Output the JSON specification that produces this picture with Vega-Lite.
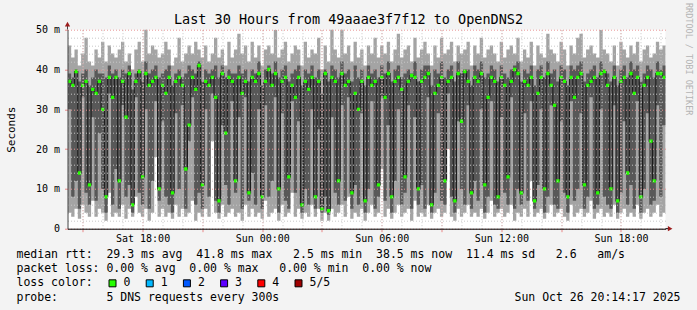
{
"$schema": "https://vega.github.io/schema/vega-lite/v6.json",
"background": "#f3f3f3",
"padding": {"left": 5.5, "top": 1.7, "right": 4, "bottom": 6},
"config": {"font": "DejaVu Sans Mono", "view": {"stroke": null}, "axis": {"labelColor": "#000", "titleColor": "#000", "titleFontWeight": "normal"}},
"datasets": {
"smoke": [
{"t":"2025-10-25T14:15","lo":4,"q1":30,"md":37,"q3":39,"hi":46},
{"t":"2025-10-25T14:25","lo":3,"q1":8,"md":36,"q3":38,"hi":43},
{"t":"2025-10-25T14:35","lo":5,"q1":12,"md":39.5,"q3":40,"hi":45},
{"t":"2025-10-25T14:45","lo":2.5,"q1":5,"md":14,"q3":37,"hi":41},
{"t":"2025-10-25T14:55","lo":6,"q1":33,"md":36,"q3":39,"hi":44},
{"t":"2025-10-25T15:05","lo":4,"q1":9,"md":37,"q3":40,"hi":48},
{"t":"2025-10-25T15:15","lo":3,"q1":6,"md":11,"q3":36,"hi":42},
{"t":"2025-10-25T15:25","lo":7,"q1":28,"md":35,"q3":38,"hi":41},
{"t":"2025-10-25T15:35","lo":3,"q1":7,"md":34,"q3":40,"hi":45},
{"t":"2025-10-25T15:45","lo":5,"q1":24,"md":37,"q3":39,"hi":43},
{"t":"2025-10-25T15:55","lo":4,"q1":10,"md":30,"q3":39,"hi":47},
{"t":"2025-10-25T16:05","lo":2,"q1":4,"md":8,"q3":38,"hi":42},
{"t":"2025-10-25T16:15","lo":9,"q1":34,"md":38,"q3":41,"hi":46},
{"t":"2025-10-25T16:25","lo":3,"q1":6,"md":33,"q3":39,"hi":44},
{"t":"2025-10-25T16:35","lo":4,"q1":15,"md":38,"q3":40,"hi":43},
{"t":"2025-10-25T16:45","lo":3,"q1":5,"md":12,"q3":38,"hi":45},
{"t":"2025-10-25T16:55","lo":6,"q1":31,"md":37,"q3":40,"hi":47},
{"t":"2025-10-25T17:05","lo":2.5,"q1":8,"md":28,"q3":39,"hi":42},
{"t":"2025-10-25T17:15","lo":5,"q1":11,"md":39,"q3":41,"hi":44},
{"t":"2025-10-25T17:25","lo":3,"q1":4,"md":6,"q3":35,"hi":40},
{"t":"2025-10-25T17:35","lo":8,"q1":33,"md":37,"q3":39,"hi":45},
{"t":"2025-10-25T17:45","lo":4,"q1":9,"md":39.5,"q3":40,"hi":47},
{"t":"2025-10-25T17:55","lo":3,"q1":6,"md":13,"q3":37,"hi":42},
{"t":"2025-10-25T18:05","lo":5,"q1":30,"md":39,"q3":42,"hi":51},
{"t":"2025-10-25T18:15","lo":2,"q1":5,"md":36,"q3":39,"hi":44},
{"t":"2025-10-25T18:25","lo":4,"q1":12,"md":37,"q3":40,"hi":46},
{"t":"2025-10-25T18:35","lo":18,"q1":32,"md":38,"q3":41,"hi":45},
{"t":"2025-10-25T18:45","lo":3,"q1":7,"md":10,"q3":38,"hi":43},
{"t":"2025-10-25T18:55","lo":5,"q1":27,"md":36,"q3":39,"hi":44},
{"t":"2025-10-25T19:05","lo":3,"q1":8,"md":34,"q3":40,"hi":47},
{"t":"2025-10-25T19:15","lo":4,"q1":6,"md":38,"q3":41,"hi":45},
{"t":"2025-10-25T19:25","lo":2.5,"q1":4,"md":9,"q3":36,"hi":41},
{"t":"2025-10-25T19:35","lo":6,"q1":29,"md":37,"q3":39,"hi":43},
{"t":"2025-10-25T19:45","lo":3,"q1":10,"md":38,"q3":40,"hi":48},
{"t":"2025-10-25T19:55","lo":5,"q1":31,"md":36,"q3":38,"hi":42},
{"t":"2025-10-25T20:05","lo":3,"q1":5,"md":15,"q3":39,"hi":44},
{"t":"2025-10-25T20:15","lo":4,"q1":22,"md":26,"q3":41,"hi":46},
{"t":"2025-10-25T20:25","lo":7,"q1":33,"md":38,"q3":40,"hi":44},
{"t":"2025-10-25T20:35","lo":2,"q1":6,"md":35,"q3":39,"hi":47},
{"t":"2025-10-25T20:45","lo":4,"q1":9,"md":41,"q3":42,"hi":45},
{"t":"2025-10-25T20:55","lo":3,"q1":5,"md":11,"q3":37,"hi":43},
{"t":"2025-10-25T21:05","lo":5,"q1":30,"md":37,"q3":40,"hi":46},
{"t":"2025-10-25T21:15","lo":3,"q1":8,"md":36,"q3":39,"hi":42},
{"t":"2025-10-25T21:25","lo":22,"q1":34,"md":38,"q3":40,"hi":44},
{"t":"2025-10-25T21:35","lo":4,"q1":7,"md":33,"q3":41,"hi":48},
{"t":"2025-10-25T21:45","lo":2.5,"q1":4,"md":7,"q3":38,"hi":43},
{"t":"2025-10-25T21:55","lo":6,"q1":26,"md":39,"q3":41,"hi":45},
{"t":"2025-10-25T22:05","lo":3,"q1":11,"md":24,"q3":38,"hi":41},
{"t":"2025-10-25T22:15","lo":4,"q1":6,"md":38,"q3":40,"hi":47},
{"t":"2025-10-25T22:25","lo":5,"q1":32,"md":37,"q3":39,"hi":43},
{"t":"2025-10-25T22:35","lo":3,"q1":9,"md":12,"q3":39,"hi":45},
{"t":"2025-10-25T22:45","lo":4,"q1":28,"md":38,"q3":41,"hi":49},
{"t":"2025-10-25T22:55","lo":2,"q1":5,"md":34,"q3":39,"hi":44},
{"t":"2025-10-25T23:05","lo":6,"q1":33,"md":37,"q3":40,"hi":46},
{"t":"2025-10-25T23:15","lo":3,"q1":7,"md":9,"q3":37,"hi":42},
{"t":"2025-10-25T23:25","lo":5,"q1":14,"md":38,"q3":40,"hi":47},
{"t":"2025-10-25T23:35","lo":3,"q1":6,"md":37,"q3":39,"hi":43},
{"t":"2025-10-25T23:45","lo":4,"q1":30,"md":39,"q3":42,"hi":46},
{"t":"2025-10-25T23:55","lo":2.5,"q1":5,"md":8,"q3":36,"hi":41},
{"t":"2025-10-26T00:05","lo":7,"q1":31,"md":37,"q3":40,"hi":45},
{"t":"2025-10-26T00:15","lo":3,"q1":8,"md":40,"q3":41,"hi":46},
{"t":"2025-10-26T00:25","lo":4,"q1":12,"md":36,"q3":39,"hi":44},
{"t":"2025-10-26T00:35","lo":5,"q1":33,"md":39,"q3":42,"hi":50},
{"t":"2025-10-26T00:45","lo":2,"q1":4,"md":10,"q3":38,"hi":43},
{"t":"2025-10-26T00:55","lo":6,"q1":29,"md":37,"q3":40,"hi":45},
{"t":"2025-10-26T01:05","lo":3,"q1":7,"md":38,"q3":41,"hi":47},
{"t":"2025-10-26T01:15","lo":4,"q1":5,"md":13,"q3":37,"hi":42},
{"t":"2025-10-26T01:25","lo":9,"q1":32,"md":36,"q3":39,"hi":44},
{"t":"2025-10-26T01:35","lo":3,"q1":9,"md":33,"q3":40,"hi":46},
{"t":"2025-10-26T01:45","lo":5,"q1":27,"md":38,"q3":41,"hi":45},
{"t":"2025-10-26T01:55","lo":2.5,"q1":4,"md":6,"q3":36,"hi":41},
{"t":"2025-10-26T02:05","lo":4,"q1":10,"md":37,"q3":40,"hi":47},
{"t":"2025-10-26T02:15","lo":3,"q1":6,"md":35,"q3":39,"hi":43},
{"t":"2025-10-26T02:25","lo":6,"q1":30,"md":38,"q3":41,"hi":45},
{"t":"2025-10-26T02:35","lo":3,"q1":5,"md":8,"q3":38,"hi":44},
{"t":"2025-10-26T02:45","lo":5,"q1":25,"md":37,"q3":40,"hi":48},
{"t":"2025-10-26T02:55","lo":2,"q1":4,"md":5,"q3":34,"hi":40},
{"t":"2025-10-26T03:05","lo":4,"q1":8,"md":39,"q3":40,"hi":46},
{"t":"2025-10-26T03:15","lo":2,"q1":3.5,"md":4.5,"q3":37,"hi":42},
{"t":"2025-10-26T03:25","lo":5,"q1":28,"md":38,"q3":41,"hi":51},
{"t":"2025-10-26T03:35","lo":3,"q1":9,"md":37,"q3":40,"hi":45},
{"t":"2025-10-26T03:45","lo":4,"q1":6,"md":12,"q3":38,"hi":43},
{"t":"2025-10-26T03:55","lo":6,"q1":31,"md":39,"q3":42,"hi":51},
{"t":"2025-10-26T04:05","lo":3,"q1":7,"md":36,"q3":39,"hi":44},
{"t":"2025-10-26T04:15","lo":8,"q1":33,"md":37,"q3":40,"hi":46},
{"t":"2025-10-26T04:25","lo":2.5,"q1":5,"md":9,"q3":37,"hi":42},
{"t":"2025-10-26T04:35","lo":4,"q1":11,"md":34,"q3":41,"hi":47},
{"t":"2025-10-26T04:45","lo":3,"q1":6,"md":30,"q3":38,"hi":43},
{"t":"2025-10-26T04:55","lo":5,"q1":29,"md":37,"q3":40,"hi":45},
{"t":"2025-10-26T05:05","lo":2,"q1":4,"md":7,"q3":36,"hi":41},
{"t":"2025-10-26T05:15","lo":4,"q1":10,"md":38,"q3":41,"hi":46},
{"t":"2025-10-26T05:25","lo":6,"q1":32,"md":36,"q3":39,"hi":44},
{"t":"2025-10-26T05:35","lo":3,"q1":5,"md":37,"q3":40,"hi":48},
{"t":"2025-10-26T05:45","lo":4,"q1":8,"md":11,"q3":38,"hi":43},
{"t":"2025-10-26T05:55","lo":15,"q1":33,"md":38,"q3":41,"hi":46},
{"t":"2025-10-26T06:05","lo":3,"q1":7,"md":33,"q3":39,"hi":44},
{"t":"2025-10-26T06:15","lo":5,"q1":26,"md":39,"q3":42,"hi":47},
{"t":"2025-10-26T06:25","lo":2.5,"q1":4,"md":8,"q3":37,"hi":42},
{"t":"2025-10-26T06:35","lo":4,"q1":12,"md":37,"q3":40,"hi":45},
{"t":"2025-10-26T06:45","lo":6,"q1":30,"md":38,"q3":41,"hi":49},
{"t":"2025-10-26T06:55","lo":3,"q1":6,"md":35,"q3":38,"hi":43},
{"t":"2025-10-26T07:05","lo":4,"q1":9,"md":13,"q3":39,"hi":45},
{"t":"2025-10-26T07:15","lo":5,"q1":31,"md":37,"q3":40,"hi":46},
{"t":"2025-10-26T07:25","lo":2,"q1":5,"md":38.5,"q3":39,"hi":42},
{"t":"2025-10-26T07:35","lo":7,"q1":28,"md":38,"q3":42,"hi":48},
{"t":"2025-10-26T07:45","lo":3,"q1":6,"md":10,"q3":37,"hi":43},
{"t":"2025-10-26T07:55","lo":4,"q1":11,"md":37,"q3":40,"hi":45},
{"t":"2025-10-26T08:05","lo":3,"q1":5,"md":38,"q3":41,"hi":47},
{"t":"2025-10-26T08:15","lo":6,"q1":33,"md":39,"q3":41,"hi":44},
{"t":"2025-10-26T08:25","lo":2.5,"q1":4,"md":6,"q3":36,"hi":41},
{"t":"2025-10-26T08:35","lo":4,"q1":9,"md":34,"q3":40,"hi":46},
{"t":"2025-10-26T08:45","lo":5,"q1":29,"md":36,"q3":39,"hi":43},
{"t":"2025-10-26T08:55","lo":3,"q1":7,"md":38,"q3":42,"hi":48},
{"t":"2025-10-26T09:05","lo":4,"q1":6,"md":12,"q3":38,"hi":44},
{"t":"2025-10-26T09:15","lo":20,"q1":34,"md":37,"q3":40,"hi":45},
{"t":"2025-10-26T09:25","lo":3,"q1":8,"md":38,"q3":41,"hi":47},
{"t":"2025-10-26T09:35","lo":2,"q1":4,"md":7,"q3":37,"hi":42},
{"t":"2025-10-26T09:45","lo":5,"q1":27,"md":39,"q3":42,"hi":46},
{"t":"2025-10-26T09:55","lo":3,"q1":10,"md":27,"q3":39,"hi":44},
{"t":"2025-10-26T10:05","lo":4,"q1":6,"md":39.5,"q3":40,"hi":45},
{"t":"2025-10-26T10:15","lo":6,"q1":31,"md":37,"q3":40,"hi":47},
{"t":"2025-10-26T10:25","lo":3,"q1":5,"md":9,"q3":36,"hi":41},
{"t":"2025-10-26T10:35","lo":4,"q1":12,"md":38,"q3":41,"hi":46},
{"t":"2025-10-26T10:45","lo":3,"q1":7,"md":37,"q3":40,"hi":44},
{"t":"2025-10-26T10:55","lo":5,"q1":30,"md":39,"q3":42,"hi":48},
{"t":"2025-10-26T11:05","lo":2.5,"q1":4,"md":11,"q3":38,"hi":43},
{"t":"2025-10-26T11:15","lo":4,"q1":8,"md":33,"q3":39,"hi":45},
{"t":"2025-10-26T11:25","lo":7,"q1":32,"md":38,"q3":41,"hi":46},
{"t":"2025-10-26T11:35","lo":3,"q1":6,"md":37,"q3":40,"hi":44},
{"t":"2025-10-26T11:45","lo":4,"q1":5,"md":8,"q3":37,"hi":42},
{"t":"2025-10-26T11:55","lo":5,"q1":28,"md":38,"q3":41,"hi":47},
{"t":"2025-10-26T12:05","lo":3,"q1":9,"md":36,"q3":39,"hi":43},
{"t":"2025-10-26T12:15","lo":4,"q1":6,"md":13,"q3":38,"hi":45},
{"t":"2025-10-26T12:25","lo":6,"q1":33,"md":37,"q3":40,"hi":46},
{"t":"2025-10-26T12:35","lo":2,"q1":5,"md":40,"q3":41,"hi":44},
{"t":"2025-10-26T12:45","lo":4,"q1":10,"md":39,"q3":42,"hi":48},
{"t":"2025-10-26T12:55","lo":3,"q1":6,"md":9,"q3":37,"hi":42},
{"t":"2025-10-26T13:05","lo":5,"q1":29,"md":37,"q3":40,"hi":45},
{"t":"2025-10-26T13:15","lo":3,"q1":7,"md":36,"q3":39,"hi":43},
{"t":"2025-10-26T13:25","lo":12,"q1":32,"md":38,"q3":41,"hi":47},
{"t":"2025-10-26T13:35","lo":3,"q1":5,"md":7,"q3":36,"hi":41},
{"t":"2025-10-26T13:45","lo":4,"q1":11,"md":34,"q3":40,"hi":46},
{"t":"2025-10-26T13:55","lo":5,"q1":30,"md":38,"q3":41,"hi":44},
{"t":"2025-10-26T14:05","lo":2.5,"q1":4,"md":10,"q3":38,"hi":43},
{"t":"2025-10-26T14:15","lo":4,"q1":8,"md":39,"q3":42,"hi":49},
{"t":"2025-10-26T14:25","lo":6,"q1":31,"md":36,"q3":39,"hi":45},
{"t":"2025-10-26T14:35","lo":3,"q1":6,"md":31,"q3":40,"hi":44},
{"t":"2025-10-26T14:45","lo":4,"q1":5,"md":12,"q3":37,"hi":42},
{"t":"2025-10-26T14:55","lo":5,"q1":27,"md":38,"q3":41,"hi":47},
{"t":"2025-10-26T15:05","lo":3,"q1":9,"md":37,"q3":40,"hi":45},
{"t":"2025-10-26T15:15","lo":2,"q1":4,"md":8,"q3":36,"hi":41},
{"t":"2025-10-26T15:25","lo":6,"q1":32,"md":38,"q3":41,"hi":46},
{"t":"2025-10-26T15:35","lo":3,"q1":7,"md":33,"q3":40,"hi":44},
{"t":"2025-10-26T15:45","lo":4,"q1":10,"md":38,"q3":41,"hi":48},
{"t":"2025-10-26T15:55","lo":5,"q1":29,"md":39,"q3":42,"hi":49},
{"t":"2025-10-26T16:05","lo":3,"q1":5,"md":11,"q3":37,"hi":43},
{"t":"2025-10-26T16:15","lo":4,"q1":8,"md":36,"q3":39,"hi":45},
{"t":"2025-10-26T16:25","lo":7,"q1":33,"md":37,"q3":40,"hi":46},
{"t":"2025-10-26T16:35","lo":2.5,"q1":5,"md":38,"q3":41,"hi":44},
{"t":"2025-10-26T16:45","lo":4,"q1":6,"md":9,"q3":38,"hi":43},
{"t":"2025-10-26T16:55","lo":5,"q1":30,"md":39,"q3":42,"hi":50},
{"t":"2025-10-26T17:05","lo":3,"q1":8,"md":39.5,"q3":40,"hi":45},
{"t":"2025-10-26T17:15","lo":4,"q1":6,"md":36,"q3":39,"hi":44},
{"t":"2025-10-26T17:25","lo":3,"q1":5,"md":10,"q3":37,"hi":42},
{"t":"2025-10-26T17:35","lo":6,"q1":31,"md":38,"q3":41,"hi":46},
{"t":"2025-10-26T17:45","lo":2.5,"q1":4,"md":7,"q3":36,"hi":41},
{"t":"2025-10-26T17:55","lo":4,"q1":9,"md":37,"q3":40,"hi":47},
{"t":"2025-10-26T18:05","lo":5,"q1":27,"md":38,"q3":41,"hi":45},
{"t":"2025-10-26T18:15","lo":3,"q1":6,"md":14,"q3":38,"hi":43},
{"t":"2025-10-26T18:25","lo":4,"q1":11,"md":39,"q3":42,"hi":46},
{"t":"2025-10-26T18:35","lo":3,"q1":5,"md":34,"q3":40,"hi":44},
{"t":"2025-10-26T18:45","lo":6,"q1":32,"md":38,"q3":41,"hi":47},
{"t":"2025-10-26T18:55","lo":2.5,"q1":4,"md":8,"q3":37,"hi":42},
{"t":"2025-10-26T19:05","lo":4,"q1":10,"md":36,"q3":39,"hi":45},
{"t":"2025-10-26T19:15","lo":5,"q1":29,"md":38,"q3":41,"hi":46},
{"t":"2025-10-26T19:25","lo":3,"q1":6,"md":22,"q3":40,"hi":43},
{"t":"2025-10-26T19:35","lo":4,"q1":7,"md":12,"q3":38,"hi":44},
{"t":"2025-10-26T19:45","lo":6,"q1":31,"md":39,"q3":42,"hi":47},
{"t":"2025-10-26T19:55","lo":3,"q1":8,"md":39,"q3":40,"hi":45},
{"t":"2025-10-26T20:05","lo":4,"q1":26,"md":38,"q3":41,"hi":46},
{"t":"2025-10-26T20:15","lo":5,"q1":30,"md":38,"q3":40,"hi":44}
],
"legend": [
{"line":"rtt","text":"median rtt:\u00a0\u00a029.3 ms avg\u00a0\u00a041.8 ms max\u00a0\u00a0\u00a02.5 ms min\u00a0\u00a038.5 ms now\u00a0\u00a011.4 ms sd\u00a0\u00a0\u00a02.6\u00a0\u00a0\u00a0am/s"},
{"line":"loss","text":"packet loss: 0.00 % avg\u00a0\u00a00.00 % max\u00a0\u00a0\u00a00.00 % min\u00a0\u00a00.00 % now"},
{"line":"color","text":"loss color:"},
{"line":"probe","text":"probe:\u00a0\u00a0\u00a0\u00a0\u00a0\u00a0\u00a05 DNS requests every 300s"}
],
"swatch": [{"line":"color","level":"0"},{"line":"color","level":"1"},{"line":"color","level":"2"},{"line":"color","level":"3"},{"line":"color","level":"4"},{"line":"color","level":"5/5"}]
},
"spacing": 4,
"vconcat": [
{
"width": 598, "height": 199,
"view": {"fill": "white", "stroke": null},
"data": {"name": "smoke"},
"resolve": {"axis": {"x": "independent", "y": "independent"}},
"layer": [
{
"mark": {"type": "area", "interpolate": "step-after", "color": "#a4a4a4", "clip": true},
"encoding": {
"x": {"field": "t", "type": "temporal",
 "scale": {"domain": [{"year":2025,"month":10,"date":25,"hours":14,"minutes":14},{"year":2025,"month":10,"date":26,"hours":20,"minutes":14}]},
 "axis": {"orient": "bottom", "tickCount": {"interval": "hours", "step": 3}, "labelExpr": "hours(datum.value) % 6 == 0 ? timeFormat(datum.value, '%a %H:%M') : ''", "labelFontSize": 10, "labelPadding": 2, "tickSize": 3, "tickColor": "#e88888", "grid": true, "gridColor": "#e89595", "gridDash": [1, 2], "domainColor": "#000", "title": null, "zindex": 1, "labelFlush": false, "labelOverlap": false}},
"y": {"field": "hi", "type": "quantitative", "scale": {"domain": [0, 50], "nice": false},
 "axis": {"orient": "left", "values": [0, 10, 20, 30, 40, 50], "labelExpr": "datum.value == 0 ? '0' : datum.value + ' m'", "labelFontSize": 10, "labelPadding": 5, "tickSize": 3, "tickColor": "#e88888", "grid": true, "gridColor": "#e89595", "gridDash": [1, 2], "domainColor": "#404040", "title": "Seconds", "titleFontSize": 11, "titleX": -56, "titleY": 99.5, "titleAngle": 270, "titleAlign": "center", "titleBaseline": "middle", "zindex": 1}},
"y2": {"field": "lo"}
}
},
{
"mark": {"type": "area", "interpolate": "step-after", "color": "#585858", "clip": true},
"encoding": {
"x": {"field": "t", "type": "temporal",
 "axis": {"orient": "top", "tickCount": {"interval": "hours", "step": 1}, "labels": false, "ticks": false, "domain": false, "grid": true, "gridColor": "#c8c8c8", "gridDash": [1, 2], "title": "Last 30 Hours from 49aaae3f7f12 to OpenDNS2", "titleFontSize": 13.5, "titleX": 280.5, "titleY": -10, "titleAlign": "center", "titleBaseline": "middle", "zindex": 1}},
"y": {"field": "q3", "type": "quantitative",
 "axis": {"orient": "right", "values": [2,4,6,8,12,14,16,18,22,24,26,28,32,34,36,38,42,44,46,48], "labels": false, "ticks": false, "domain": false, "grid": true, "gridColor": "#c8c8c8", "gridDash": [1, 2], "title": "RRDTOOL / TOBI OETIKER", "titleColor": "#b4b4b4", "titleFontSize": 8.5, "titleAngle": 90, "titleX": 23, "titleY": 29, "titleAlign": "center", "titleBaseline": "middle", "zindex": 1}},
"y2": {"field": "q1"}
}
},
{
"mark": {"type": "line", "interpolate": "step-after", "color": "#1c1c1c", "strokeWidth": 1.1, "clip": true},
"encoding": {
"x": {"field": "t", "type": "temporal", "axis": null},
"y": {"field": "md", "type": "quantitative", "axis": null}
}
},
{
"mark": {"type": "square", "size": 11, "filled": true, "opacity": 1, "color": "#26ff00", "xOffset": 1.67, "clip": true},
"encoding": {
"x": {"field": "t", "type": "temporal", "axis": null},
"y": {"field": "md", "type": "quantitative", "axis": null}
}
},
{
"data": {"values": [{}]},
"mark": {"type": "rule", "color": "#404040", "strokeWidth": 1},
"encoding": {
"x": {"datum": {"year":2025,"month":10,"date":25,"hours":14,"minutes":14}, "type": "temporal", "axis": null},
"y": {"datum": 50, "type": "quantitative", "axis": null},
"y2": {"datum": 51.4}
}
},
{
"data": {"values": [{}]},
"mark": {"type": "point", "shape": "triangle-up", "filled": true, "opacity": 1, "color": "#9c1c1c", "size": 28},
"encoding": {
"x": {"datum": {"year":2025,"month":10,"date":25,"hours":14,"minutes":14}, "type": "temporal", "axis": null},
"y": {"datum": 51.4, "type": "quantitative", "axis": null}
}
},
{
"data": {"values": [{}]},
"mark": {"type": "rule", "color": "#000", "strokeWidth": 1},
"encoding": {
"x": {"datum": {"year":2025,"month":10,"date":26,"hours":20,"minutes":14}, "type": "temporal", "axis": null},
"x2": {"datum": {"year":2025,"month":10,"date":26,"hours":20,"minutes":26}},
"y": {"datum": 0, "type": "quantitative", "axis": null}
}
},
{
"data": {"values": [{}]},
"mark": {"type": "point", "shape": "triangle-right", "filled": true, "opacity": 1, "color": "#9c1c1c", "size": 28},
"encoding": {
"x": {"datum": {"year":2025,"month":10,"date":26,"hours":20,"minutes":28}, "type": "temporal", "axis": null},
"y": {"datum": 0, "type": "quantitative", "axis": null}
}
}
]
},
{
"width": 613, "height": 57,
"title": {"text": "Sun Oct 26 20:14:17 2025", "orient": "bottom", "anchor": "end", "frame": "group", "fontSize": 11.5, "fontWeight": "normal", "color": "#000", "offset": -13},
"layer": [
{
"data": {"name": "legend"},
"mark": {"type": "text", "align": "left", "baseline": "middle", "fontSize": 11.5, "dx": -51, "color": "#000"},
"encoding": {
"x": {"value": 0},
"y": {"field": "line", "type": "ordinal", "scale": {"type": "point", "domain": ["rtt", "loss", "color", "probe"], "padding": 0.5}, "axis": null},
"text": {"field": "text"}
}
},
{
"data": {"name": "swatch"},
"mark": {"type": "square", "size": 49, "filled": true, "stroke": "#000", "strokeWidth": 1, "opacity": 1},
"encoding": {
"x": {"field": "level", "type": "ordinal", "scale": {"type": "point", "range": [45, 231], "padding": 0}, "axis": null},
"y": {"field": "line", "type": "ordinal", "axis": null},
"color": {"field": "level", "type": "nominal", "scale": {"domain": ["0", "1", "2", "3", "4", "5/5"], "range": ["#26ff00", "#00b8ff", "#0059ff", "#5e00ff", "#ff0000", "#a00000"]}, "legend": null}
}
},
{
"data": {"name": "swatch"},
"mark": {"type": "text", "align": "left", "baseline": "middle", "fontSize": 11.5, "dx": 11, "color": "#000"},
"encoding": {
"x": {"field": "level", "type": "ordinal", "axis": null},
"y": {"field": "line", "type": "ordinal", "axis": null},
"text": {"field": "level"}
}
}
]
}
]
}
